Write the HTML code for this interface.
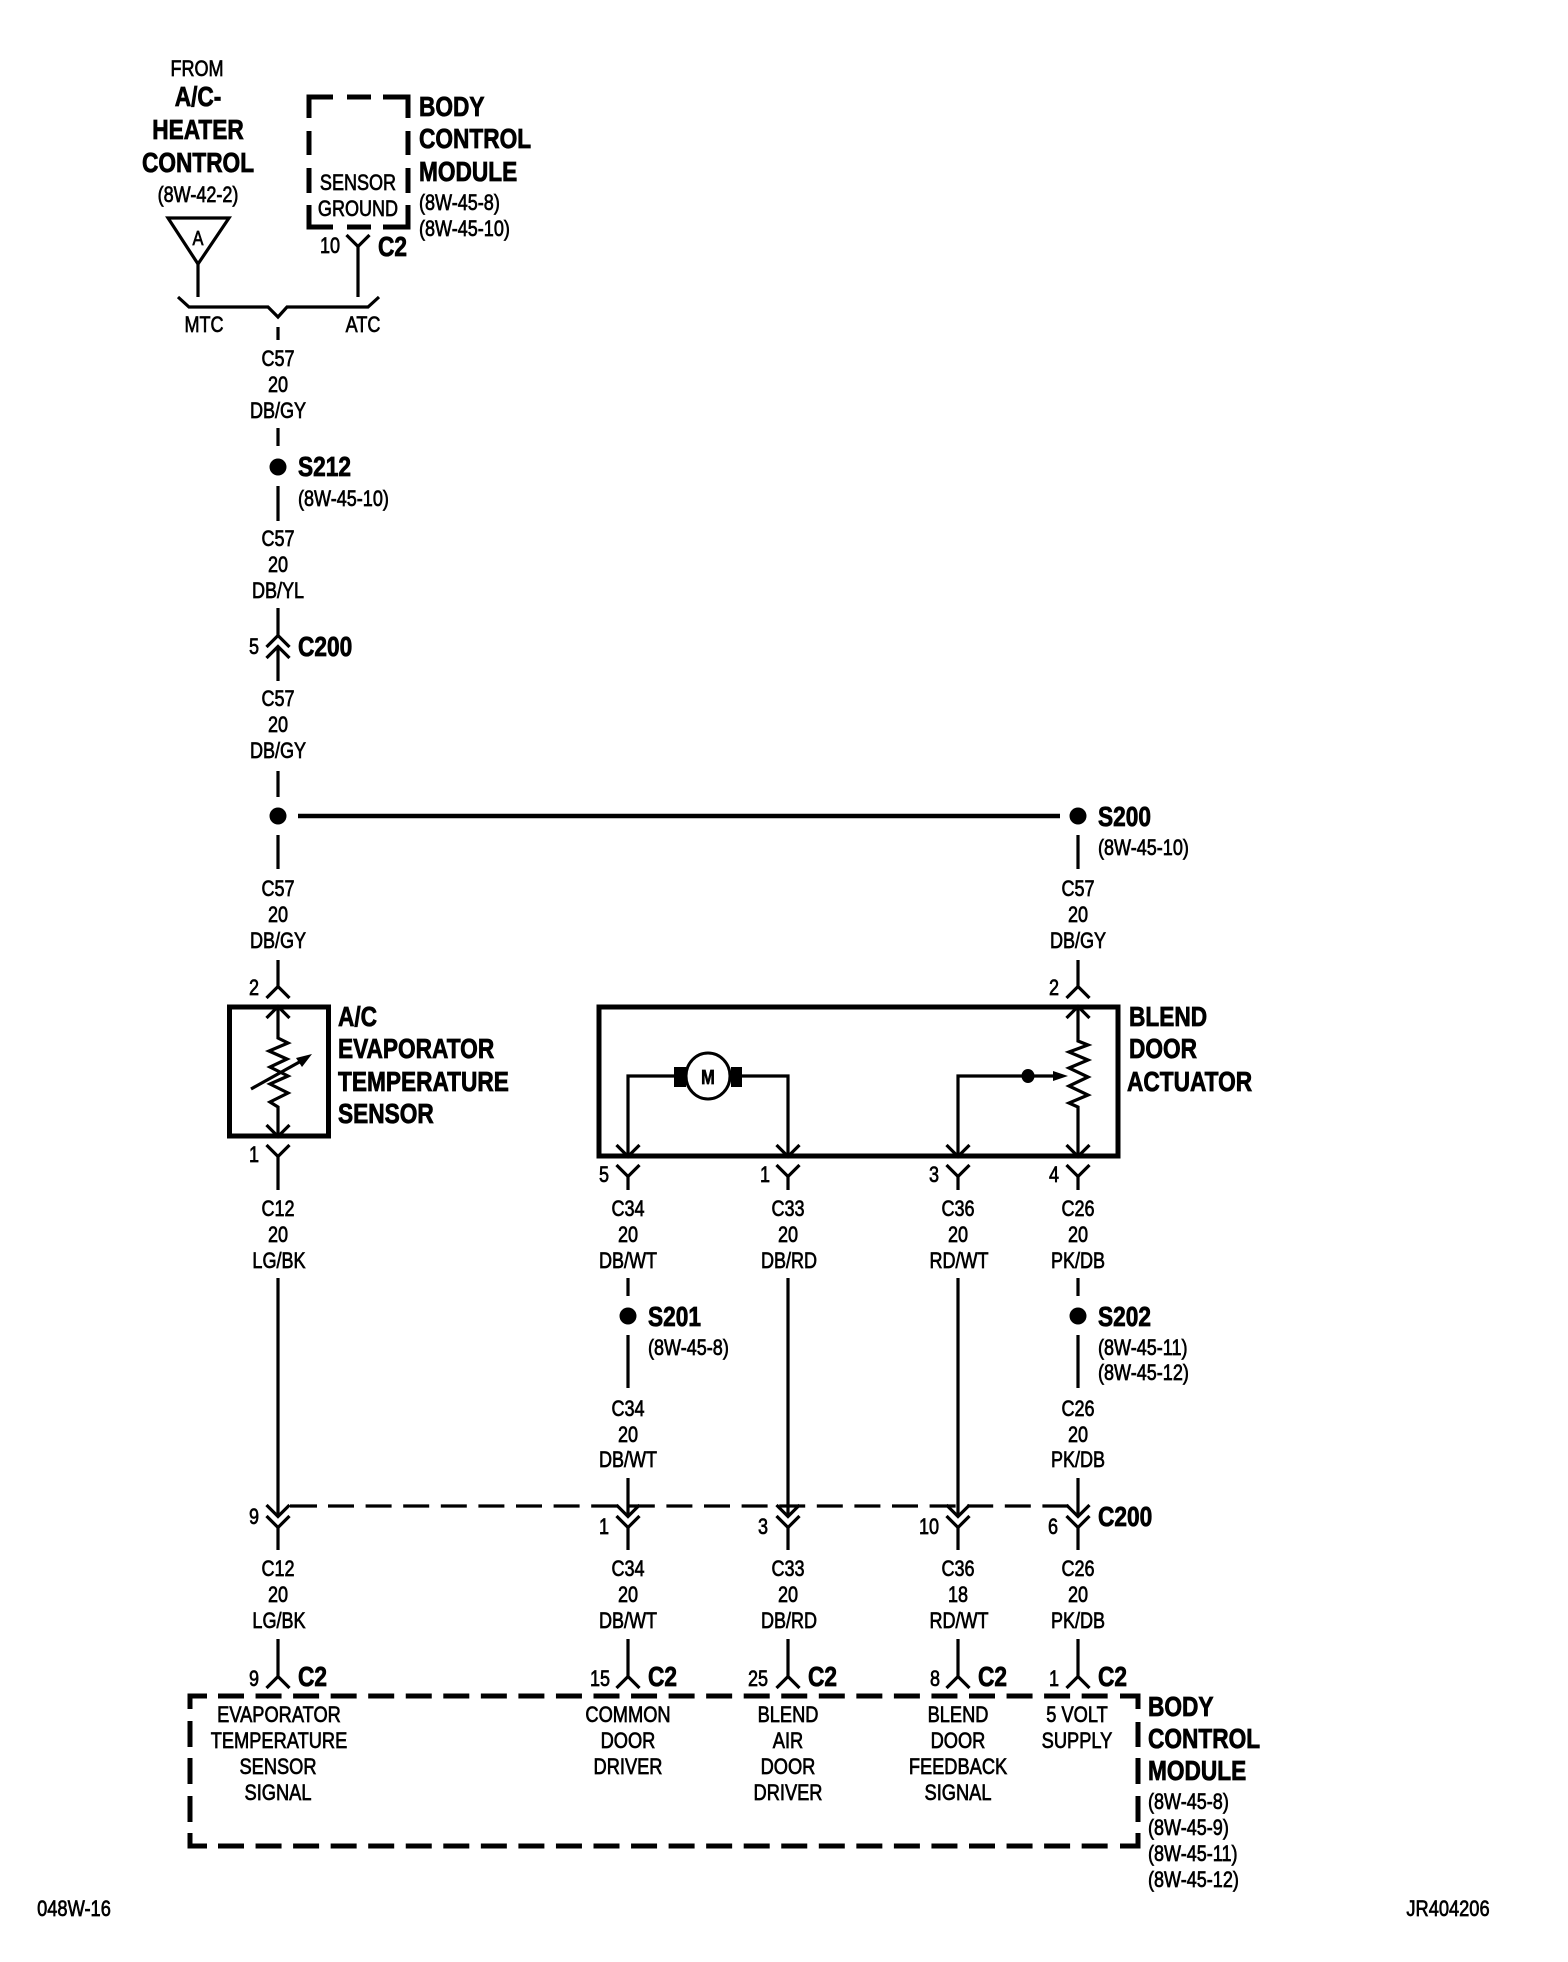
<!DOCTYPE html>
<html>
<head>
<meta charset="utf-8">
<style>
html,body{margin:0;padding:0;background:#fff}
svg{display:block}
text{font-family:"Liberation Sans",Arial,sans-serif;fill:#000}
.n{font-size:22px;text-anchor:middle;stroke:#000;stroke-width:.7px}
.l{font-size:22px;text-anchor:start;stroke:#000;stroke-width:.7px}
.b{font-size:28px;font-weight:bold;text-anchor:start;stroke:#000;stroke-width:.8px}
.c{font-size:28px;font-weight:bold;text-anchor:middle;stroke:#000;stroke-width:.8px}
.w{fill:none;stroke:#000;stroke-width:3.2;stroke-linejoin:miter}
.h{fill:none;stroke:#000;stroke-width:5}
</style>
</head>
<body>
<svg xmlns="http://www.w3.org/2000/svg" width="1568" height="1962" viewBox="0 0 1568 1962">
<defs>
<path id="d" d="M-11.5 0L0 11.5L11.5 0" fill="none" stroke="#000" stroke-width="3.2"/>
<path id="u" d="M-11.5 0L0 -11.5L11.5 0" fill="none" stroke="#000" stroke-width="3.2"/>
</defs>
<rect width="1568" height="1962" fill="#fff"/>

<!-- top left -->
<text class="n" transform="translate(197 76) scale(.82 1)">FROM</text>
<text class="c" transform="translate(198 106) scale(.81 1)">A/C-</text>
<text class="c" transform="translate(198 139) scale(.81 1)">HEATER</text>
<text class="c" transform="translate(198 172) scale(.81 1)">CONTROL</text>
<text class="n" transform="translate(198 202) scale(.82 1)">(8W-42-2)</text>
<path class="w" d="M168 218H229L198 264Z"/>
<text class="n" transform="translate(198 245) scale(.82 1)" style="font-size:20px">A</text>
<path class="w" d="M198 264V297"/>
<path class="w" d="M178 297L189 307H268L278 317L287 307H368L379 297"/>
<text class="n" transform="translate(204 332) scale(.82 1)">MTC</text>
<text class="n" transform="translate(363 332) scale(.82 1)">ATC</text>

<!-- BCM top -->
<path class="h" d="M309 118V97H333M347 97H371M383 97H408V118M309 131V155M309 168V193M309 205V227H333M347 227H371M383 227H408V205M408 131V155M408 168V193"/>
<text class="n" transform="translate(358 190) scale(.82 1)">SENSOR</text>
<text class="n" transform="translate(358 216) scale(.82 1)">GROUND</text>
<text class="b" transform="translate(419 116) scale(.81 1)">BODY</text>
<text class="b" transform="translate(419 148) scale(.81 1)">CONTROL</text>
<text class="b" transform="translate(419 181) scale(.81 1)">MODULE</text>
<text class="l" transform="translate(419 210) scale(.82 1)">(8W-45-8)</text>
<text class="l" transform="translate(419 236) scale(.82 1)">(8W-45-10)</text>
<use href="#d" x="358" y="235"/>
<path class="w" d="M358 246V297"/>
<text class="n" transform="translate(330 253) scale(.82 1)">10</text>
<text class="b" transform="translate(378 256) scale(.81 1)">C2</text>

<!-- main C57 column -->
<path class="w" d="M278 327V340"/>
<text class="n" transform="translate(278 366) scale(.82 1)">C57</text>
<text class="n" transform="translate(278 392) scale(.82 1)">20</text>
<text class="n" transform="translate(278 418) scale(.82 1)">DB/GY</text>
<path class="w" d="M278 428V446"/>
<circle cx="278" cy="467" r="8.5"/>
<text class="b" transform="translate(298 476) scale(.81 1)">S212</text>
<text class="l" transform="translate(298 506) scale(.82 1)">(8W-45-10)</text>
<path class="w" d="M278 486V521"/>
<text class="n" transform="translate(278 546) scale(.82 1)">C57</text>
<text class="n" transform="translate(278 572) scale(.82 1)">20</text>
<text class="n" transform="translate(278 598) scale(.82 1)">DB/YL</text>
<path class="w" d="M278 608V635"/>
<use href="#u" x="278" y="647"/>
<use href="#u" x="278" y="658"/>
<path class="w" d="M278 647V681"/>
<text class="n" transform="translate(254 654) scale(.82 1)">5</text>
<text class="b" transform="translate(298 656) scale(.81 1)">C200</text>
<text class="n" transform="translate(278 706) scale(.82 1)">C57</text>
<text class="n" transform="translate(278 732) scale(.82 1)">20</text>
<text class="n" transform="translate(278 758) scale(.82 1)">DB/GY</text>
<path class="w" d="M278 771V797"/>
<circle cx="278" cy="816" r="8.5"/>
<path d="M298 816H1060" fill="none" stroke="#000" stroke-width="4.5"/>
<circle cx="1078" cy="816" r="8.5"/>
<text class="b" transform="translate(1098 826) scale(.81 1)">S200</text>
<text class="l" transform="translate(1098 855) scale(.82 1)">(8W-45-10)</text>
<path class="w" d="M278 835V869M1078 835V869"/>
<text class="n" transform="translate(278 896) scale(.82 1)">C57</text>
<text class="n" transform="translate(278 922) scale(.82 1)">20</text>
<text class="n" transform="translate(278 948) scale(.82 1)">DB/GY</text>
<text class="n" transform="translate(1078 896) scale(.82 1)">C57</text>
<text class="n" transform="translate(1078 922) scale(.82 1)">20</text>
<text class="n" transform="translate(1078 948) scale(.82 1)">DB/GY</text>
<path class="w" d="M278 960V987M1078 960V987"/>
<use href="#u" x="278" y="998"/>
<use href="#u" x="1078" y="998"/>
<text class="n" transform="translate(254 995) scale(.82 1)">2</text>
<text class="n" transform="translate(1054 995) scale(.82 1)">2</text>

<!-- Sensor -->
<rect x="229.5" y="1007" width="99" height="129" fill="none" stroke="#000" stroke-width="5"/>
<use href="#u" x="278" y="1018"/>
<path class="w" d="M278 1007V1038L288 1043L269 1051L287 1059L270 1067L288 1076L270 1084L288 1093L270 1102L278 1107V1134"/>
<use href="#d" x="278" y="1125"/>
<path d="M251 1089L303 1060" fill="none" stroke="#000" stroke-width="3.2"/>
<path d="M312 1054L296 1058L302 1067Z"/>
<use href="#d" x="278" y="1145"/>
<path class="w" d="M278 1156V1190"/>
<text class="n" transform="translate(254 1162) scale(.82 1)">1</text>
<text class="b" transform="translate(338 1026) scale(.81 1)">A/C</text>
<text class="b" transform="translate(338 1058) scale(.81 1)">EVAPORATOR</text>
<text class="b" transform="translate(338 1091) scale(.81 1)">TEMPERATURE</text>
<text class="b" transform="translate(338 1123) scale(.81 1)">SENSOR</text>

<!-- Blend actuator -->
<rect x="599" y="1007" width="519" height="149" fill="none" stroke="#000" stroke-width="5"/>
<use href="#u" x="1078" y="1018"/>
<path class="w" d="M1078 1007V1041L1088 1045L1069 1052L1088 1060L1069 1068L1088 1077L1069 1086L1088 1095L1069 1103L1078 1107V1154"/>
<use href="#d" x="1078" y="1145"/>
<ellipse cx="708" cy="1076" rx="22" ry="23" fill="#fff" stroke="#000" stroke-width="3"/>
<rect x="674" y="1067" width="12" height="20"/>
<rect x="731" y="1067" width="11" height="20"/>
<text class="n" transform="translate(708 1084) scale(.82 1)" style="font-size:20px;font-weight:bold">M</text>
<path class="w" d="M674 1076H628V1154M742 1076H788V1154"/>
<use href="#d" x="628" y="1145"/>
<use href="#d" x="788" y="1145"/>
<path class="w" d="M958 1154V1076H1054"/>
<use href="#d" x="958" y="1145"/>
<ellipse cx="1028" cy="1076" rx="6.5" ry="7"/>
<path d="M1068 1076L1053 1071V1081Z"/>
<use href="#d" x="628" y="1165"/><use href="#d" x="788" y="1165"/><use href="#d" x="958" y="1165"/><use href="#d" x="1078" y="1165"/>
<path class="w" d="M628 1176V1190M788 1176V1190M958 1176V1190M1078 1176V1190"/>
<text class="n" transform="translate(604 1182) scale(.82 1)">5</text>
<text class="n" transform="translate(765 1182) scale(.82 1)">1</text>
<text class="n" transform="translate(934 1182) scale(.82 1)">3</text>
<text class="n" transform="translate(1054 1182) scale(.82 1)">4</text>
<text class="b" transform="translate(1129 1026) scale(.81 1)">BLEND</text>
<text class="b" transform="translate(1129 1058) scale(.81 1)">DOOR</text>
<text class="b" transform="translate(1127 1091) scale(.81 1)">ACTUATOR</text>

<!-- wire labels row 1 -->
<text class="n" transform="translate(278 1216) scale(.82 1)">C12</text>
<text class="n" transform="translate(278 1242) scale(.82 1)">20</text>
<text class="n" transform="translate(279 1268) scale(.82 1)">LG/BK</text>
<text class="n" transform="translate(628 1216) scale(.82 1)">C34</text>
<text class="n" transform="translate(628 1242) scale(.82 1)">20</text>
<text class="n" transform="translate(628 1268) scale(.82 1)">DB/WT</text>
<text class="n" transform="translate(788 1216) scale(.82 1)">C33</text>
<text class="n" transform="translate(788 1242) scale(.82 1)">20</text>
<text class="n" transform="translate(789 1268) scale(.82 1)">DB/RD</text>
<text class="n" transform="translate(958 1216) scale(.82 1)">C36</text>
<text class="n" transform="translate(958 1242) scale(.82 1)">20</text>
<text class="n" transform="translate(959 1268) scale(.82 1)">RD/WT</text>
<text class="n" transform="translate(1078 1216) scale(.82 1)">C26</text>
<text class="n" transform="translate(1078 1242) scale(.82 1)">20</text>
<text class="n" transform="translate(1078 1268) scale(.82 1)">PK/DB</text>

<path class="w" d="M278 1278V1516M788 1278V1516M958 1278V1516M628 1278V1296M1078 1278V1296M628 1335V1388M1078 1335V1388M628 1478V1516M1078 1478V1516"/>
<circle cx="628" cy="1316" r="8.5"/>
<circle cx="1078" cy="1316" r="8.5"/>
<text class="b" transform="translate(648 1326) scale(.81 1)">S201</text>
<text class="l" transform="translate(648 1355) scale(.82 1)">(8W-45-8)</text>
<text class="b" transform="translate(1098 1326) scale(.81 1)">S202</text>
<text class="l" transform="translate(1098 1355) scale(.82 1)">(8W-45-11)</text>
<text class="l" transform="translate(1098 1380) scale(.82 1)">(8W-45-12)</text>
<text class="n" transform="translate(628 1416) scale(.82 1)">C34</text>
<text class="n" transform="translate(628 1442) scale(.82 1)">20</text>
<text class="n" transform="translate(628 1467) scale(.82 1)">DB/WT</text>
<text class="n" transform="translate(1078 1416) scale(.82 1)">C26</text>
<text class="n" transform="translate(1078 1442) scale(.82 1)">20</text>
<text class="n" transform="translate(1078 1467) scale(.82 1)">PK/DB</text>

<!-- C200 dashed -->
<path class="w" d="M290 1506H317"/>
<path class="w" d="M328 1506H1070" stroke-dasharray="26 11.6"/>
<use href="#d" x="278" y="1505"/><use href="#d" x="628" y="1505"/><use href="#d" x="788" y="1505"/><use href="#d" x="958" y="1505"/><use href="#d" x="1078" y="1505"/>
<use href="#d" x="278" y="1516"/><use href="#d" x="628" y="1516"/><use href="#d" x="788" y="1516"/><use href="#d" x="958" y="1516"/><use href="#d" x="1078" y="1516"/>
<path class="w" d="M278 1527V1550M628 1527V1550M788 1527V1550M958 1527V1550M1078 1527V1550"/>
<text class="n" transform="translate(254 1524) scale(.82 1)">9</text>
<text class="n" transform="translate(604 1534) scale(.82 1)">1</text>
<text class="n" transform="translate(763 1534) scale(.82 1)">3</text>
<text class="n" transform="translate(929 1534) scale(.82 1)">10</text>
<text class="n" transform="translate(1053 1534) scale(.82 1)">6</text>
<text class="b" transform="translate(1098 1526) scale(.81 1)">C200</text>

<!-- wire labels row 3 -->
<text class="n" transform="translate(278 1576) scale(.82 1)">C12</text>
<text class="n" transform="translate(278 1602) scale(.82 1)">20</text>
<text class="n" transform="translate(279 1628) scale(.82 1)">LG/BK</text>
<text class="n" transform="translate(628 1576) scale(.82 1)">C34</text>
<text class="n" transform="translate(628 1602) scale(.82 1)">20</text>
<text class="n" transform="translate(628 1628) scale(.82 1)">DB/WT</text>
<text class="n" transform="translate(788 1576) scale(.82 1)">C33</text>
<text class="n" transform="translate(788 1602) scale(.82 1)">20</text>
<text class="n" transform="translate(789 1628) scale(.82 1)">DB/RD</text>
<text class="n" transform="translate(958 1576) scale(.82 1)">C36</text>
<text class="n" transform="translate(958 1602) scale(.82 1)">18</text>
<text class="n" transform="translate(959 1628) scale(.82 1)">RD/WT</text>
<text class="n" transform="translate(1078 1576) scale(.82 1)">C26</text>
<text class="n" transform="translate(1078 1602) scale(.82 1)">20</text>
<text class="n" transform="translate(1078 1628) scale(.82 1)">PK/DB</text>

<path class="w" d="M278 1639V1676M628 1639V1676M788 1639V1676M958 1639V1676M1078 1639V1676"/>
<use href="#u" x="278" y="1688"/><use href="#u" x="628" y="1688"/><use href="#u" x="788" y="1688"/><use href="#u" x="958" y="1688"/><use href="#u" x="1078" y="1688"/>
<text class="n" transform="translate(254 1686) scale(.82 1)">9</text>
<text class="n" transform="translate(600 1686) scale(.82 1)">15</text>
<text class="n" transform="translate(758 1686) scale(.82 1)">25</text>
<text class="n" transform="translate(935 1686) scale(.82 1)">8</text>
<text class="n" transform="translate(1054 1686) scale(.82 1)">1</text>
<text class="b" transform="translate(298 1686) scale(.81 1)">C2</text>
<text class="b" transform="translate(648 1686) scale(.81 1)">C2</text>
<text class="b" transform="translate(808 1686) scale(.81 1)">C2</text>
<text class="b" transform="translate(978 1686) scale(.81 1)">C2</text>
<text class="b" transform="translate(1098 1686) scale(.81 1)">C2</text>

<!-- BCM bottom box -->
<path class="h" d="M190 1709V1696H207M1120 1696H1138V1709M190 1721V1747M190 1758V1784M190 1796V1822M190 1833V1846H207M1138 1722V1747M1138 1758V1784M1138 1796V1822M1138 1833V1846H1120"/>
<path class="h" d="M218 1696H1108" stroke-dasharray="26 11.55"/>
<path class="h" d="M218 1846H1108" stroke-dasharray="26 11.55"/>

<text class="n" transform="translate(279 1722) scale(.83 1)">EVAPORATOR</text>
<text class="n" transform="translate(279 1748) scale(.83 1)">TEMPERATURE</text>
<text class="n" transform="translate(278 1774) scale(.83 1)">SENSOR</text>
<text class="n" transform="translate(278 1800) scale(.83 1)">SIGNAL</text>
<text class="n" transform="translate(628 1722) scale(.83 1)">COMMON</text>
<text class="n" transform="translate(628 1748) scale(.83 1)">DOOR</text>
<text class="n" transform="translate(628 1774) scale(.83 1)">DRIVER</text>
<text class="n" transform="translate(788 1722) scale(.83 1)">BLEND</text>
<text class="n" transform="translate(788 1748) scale(.83 1)">AIR</text>
<text class="n" transform="translate(788 1774) scale(.83 1)">DOOR</text>
<text class="n" transform="translate(788 1800) scale(.83 1)">DRIVER</text>
<text class="n" transform="translate(958 1722) scale(.83 1)">BLEND</text>
<text class="n" transform="translate(958 1748) scale(.83 1)">DOOR</text>
<text class="n" transform="translate(958 1774) scale(.83 1)">FEEDBACK</text>
<text class="n" transform="translate(958 1800) scale(.83 1)">SIGNAL</text>
<text class="n" transform="translate(1077 1722) scale(.83 1)">5 VOLT</text>
<text class="n" transform="translate(1077 1748) scale(.83 1)">SUPPLY</text>

<text class="b" transform="translate(1148 1716) scale(.81 1)">BODY</text>
<text class="b" transform="translate(1148 1748) scale(.81 1)">CONTROL</text>
<text class="b" transform="translate(1148 1780) scale(.81 1)">MODULE</text>
<text class="l" transform="translate(1148 1809) scale(.82 1)">(8W-45-8)</text>
<text class="l" transform="translate(1148 1835) scale(.82 1)">(8W-45-9)</text>
<text class="l" transform="translate(1148 1861) scale(.82 1)">(8W-45-11)</text>
<text class="l" transform="translate(1148 1887) scale(.82 1)">(8W-45-12)</text>

<text class="n" transform="translate(74 1916) scale(.83 1)">048W-16</text>
<text class="n" transform="translate(1448 1916) scale(.83 1)">JR404206</text>
</svg>
</body>
</html>
